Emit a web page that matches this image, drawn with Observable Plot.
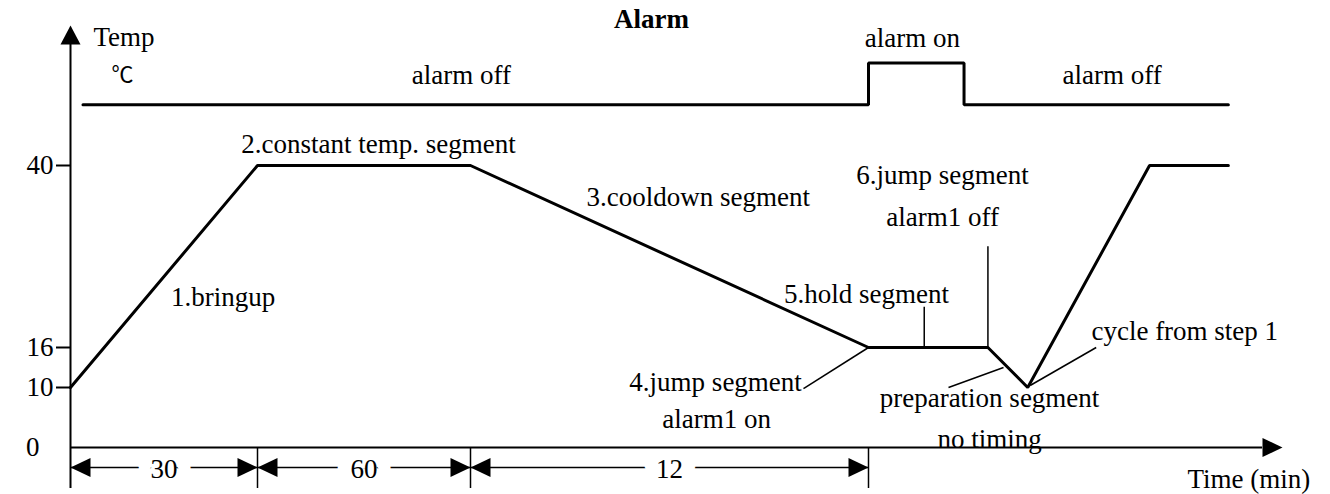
<!DOCTYPE html>
<html><head><meta charset="utf-8">
<script src="https://cdn.jsdelivr.net/npm/d3@7"></script>
<script src="https://cdn.jsdelivr.net/npm/@observablehq/plot@0.6"></script>
<style>body{margin:0;background:#fff}</style>
</head><body><div id="chart"></div>
<script>
// ---- data (schematic time in minutes; beyond 102 min the diagram has "no timing") ----
const profileTime = [0, 30, 90, 102, 117, 122, 137.3, 147.2];
const profileTemp = [10, 40, 40, 16, 16, 10, 40, 40];
const alarmTime = [2, 102, 114, 147.2];
const alarmLevel = [48, 53.5, 48, 48];          // off / on / off / off
const yTicks = [10, 16, 40];
const segStart = [0, 30, 90];
const segEnd = [30, 90, 102];
const segLabel = ["30", "60", "12"];
const dimY = -3.33, dimBottom = -6.83;
const noteText = ["alarm off", "alarm on", "alarm off", "2.constant temp. segment", "3.cooldown segment",
  "6.jump segment", "alarm1 off", "1.bringup", "5.hold segment", "4.jump segment", "alarm1 on",
  "preparation segment", "no timing"];
const noteX = [87.46, 107.5, 132.6, 64.1, 96.87, 111.3, 111.3, 24.5, 101.94, 97.39, 97.42, 117.2, 117.2];
const noteY = [50.8, 55.6, 50.8, 41.7, 34.7, 37.6, 32.0, 21.5, 21.9, 9.5, 3.17, 6.83, 0];
const startText = ["Temp", "cycle from step 1", "Time (min)"];
const startX = [3.69, 130.0, 142.07];
const startY = [55.8, 17.05, -6.67];
// leader lines
const leadX1 = [100.04, 112.05, 130.6], leadY1 = [9.83, 10, 16];
const leadX2 = [102, 118.96, 122.3], leadY2 = [16, 13, 10.3];
const vLeadX = [109, 117], vLeadTop = [21.3, 29.3];

// schematic (non-uniform) axes: piecewise mappings used as scale transforms
const xBreaks = [0, 30, 90, 102, 154], xPos = [70, 257, 470, 868, 1282];
const yBreaks = [0, 10, 16, 40, 60], yPos = [447, 387, 347, 165, 13.3];
const xf = d3.scaleLinear().domain(xBreaks).range(xPos);
const yf = d3.scaleLinear().domain(yBreaks).range(yPos);

const serif = "Liberation Serif, Times New Roman, serif";
const idx = (a) => a.map((_, i) => i);
const tri = (pts) => ({draw(ctx) { ctx.moveTo(0, 0); for (const [a, b] of pts) ctx.lineTo(a, b); ctx.closePath(); }});
const arrowUp = tri([[10, 19], [-10, 19]]);
const arrowRight = tri([[-20, -9.5], [-20, 9.5]]);
const arrowLeft = tri([[20, -9.5], [20, 9.5]]);

const profile = profileTime.map((t, i) => ({t, v: profileTemp[i]}));
const alarm = alarmTime.map((t, i) => ({t, v: alarmLevel[i]}));

const chart = Plot.plot({
  width: 1330, height: 494,
  marginLeft: 70, marginRight: 48, marginTop: 25, marginBottom: 47,
  style: {fontFamily: serif, fontSize: "27px", background: "white", color: "black"},
  x: {transform: (d) => xf(d), domain: [0, 1330], range: [0, 1330], axis: null},
  y: {transform: (d) => yf(d), domain: [0, 494], range: [0, 494], axis: null},
  marks: [
    // y ticks and tick labels
    Plot.ruleY(yTicks, {x1: -2.25, x2: 0, strokeWidth: 2}),
    Plot.text(yTicks, {x: 0, y: d => d, text: d => String(d), textAnchor: "end", dx: -17, fontSize: 27, fill: "black"}),
    Plot.text([0], {x: 0, y: d => d, text: d => String(d), textAnchor: "end", dx: -31, fontSize: 27, fill: "black"}),
    // temperature profile
    Plot.line(profile, {x: "t", y: "v", stroke: "black", strokeWidth: 3, strokeLinejoin: "miter"}),
    // alarm signal
    Plot.line(alarm, {x: "t", y: "v", curve: "step-after", stroke: "black", strokeWidth: 3, strokeLinejoin: "miter"}),
    // dimension lines
    Plot.ruleY(idx(segStart), {x1: i => segStart[i], x2: i => segEnd[i], y: () => dimY, strokeWidth: 1.5}),
    Plot.text(idx(segStart), {x: i => (segStart[i] + segEnd[i]) / 2, y: () => dimY, text: i => segLabel[i],
      fontSize: 27, dy: 2, fill: "black", stroke: "white", strokeWidth: 28}),
    // axes lines
    Plot.ruleX([0], {y1: dimBottom, y2: 56, strokeWidth: 2}),
    Plot.ruleY([0], {x1: 0, x2: 151.5, strokeWidth: 2}),
    Plot.ruleX(segEnd, {y1: 0, y2: dimBottom, strokeWidth: 1.5}),
    Plot.dot([0], {x: 0, y: 58.46, symbol: arrowUp, fill: "black", stroke: "none"}),
    Plot.dot([0], {x: 154, y: 0, symbol: arrowRight, fill: "black", stroke: "none"}),
    Plot.dot(segStart, {x: d => d, y: () => dimY, symbol: arrowLeft, fill: "black", stroke: "none"}),
    Plot.dot(segEnd, {x: d => d, y: () => dimY, symbol: arrowRight, fill: "black", stroke: "none"}),
    // leaders
    Plot.link(idx(leadX1), {x1: i => leadX1[i], y1: i => leadY1[i], x2: i => leadX2[i], y2: i => leadY2[i], strokeWidth: 1.5, stroke: "black"}),
    Plot.ruleX(idx(vLeadX), {x: i => vLeadX[i], y1: () => 16, y2: i => vLeadTop[i], strokeWidth: 1.5}),
    // labels
    Plot.text(idx(noteText), {x: i => noteX[i], y: i => noteY[i], text: i => noteText[i], lineAnchor: "bottom", fontSize: 27, fill: "black"}),
    Plot.text(idx(startText), {x: i => startX[i], y: i => startY[i], text: i => startText[i], textAnchor: "start", lineAnchor: "bottom", fontSize: 27, fill: "black"}),
    Plot.text(["Alarm"], {x: 95.46, y: 58.07, text: d => d, lineAnchor: "bottom", fontSize: 27, fontWeight: "bold", fill: "black"}),
    Plot.text(["℃"], {x: 8.34, y: 51.9, text: d => d, fontSize: 22, fontFamily: "Noto Sans CJK SC", fill: "black"})
  ]
});
document.getElementById("chart").appendChild(chart);
</script>
</body></html>
